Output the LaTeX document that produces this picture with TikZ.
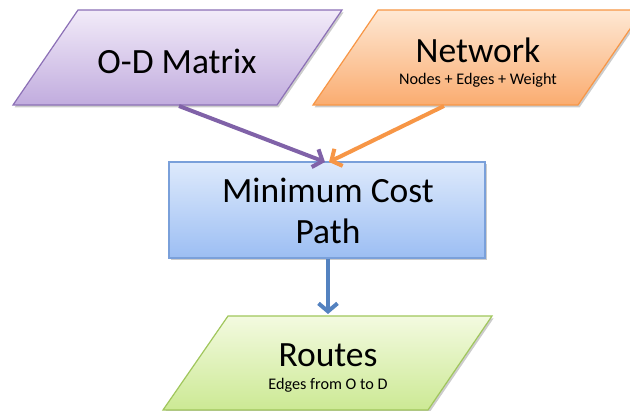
\documentclass[tikz,border=0pt]{standalone}
\usepackage{fontspec}
\setmainfont{Carlito}
\usetikzlibrary{arrows.meta,shadows}
\definecolor{odtop}{RGB}{242,235,249}
\definecolor{odbot}{RGB}{193,172,222}
\definecolor{oddraw}{RGB}{140,112,182}
\definecolor{odarrow}{RGB}{128,98,168}
\definecolor{nettop}{RGB}{254,232,212}
\definecolor{netbot}{RGB}{250,172,112}
\definecolor{netdraw}{RGB}{247,150,70}
\definecolor{mcptop}{RGB}{222,234,252}
\definecolor{mcpbot}{RGB}{156,190,243}
\definecolor{mcpdraw}{RGB}{122,160,218}
\definecolor{mcparrow}{RGB}{84,130,192}
\definecolor{rttop}{RGB}{243,250,224}
\definecolor{rtbot}{RGB}{204,233,148}
\definecolor{rtdraw}{RGB}{160,198,92}
\tikzset{
  boxshadow/.style={drop shadow={shadow xshift=1.5pt,shadow yshift=-2.5pt,opacity=0.2,fill=black}},
  bigtext/.style={font=\fontsize{35.5}{40}\selectfont,inner sep=0pt,anchor=base},
  smalltext/.style={font=\fontsize{16.2}{18}\selectfont,inner sep=0pt,anchor=base},
  flowarrow/.style={line width=4pt,-{Straight Barb[length=8pt,width=19pt,line width=4pt]}},
}
\begin{document}
\begin{tikzpicture}[x=1pt,y=-1pt]
\useasboundingbox (0,0) rectangle (630,411);
\clip (0,0) rectangle (630,411);
% O-D Matrix
\path[boxshadow,top color=odtop,bottom color=odbot,draw=oddraw,line width=1.2pt]
  (78,10) -- (342,10) -- (277,105) -- (13,105) -- cycle;
\node[bigtext] (od) at (177,74) {O-D Matrix};
\coordinate (odout) at (179,106);
% Network
\path[boxshadow,top color=nettop,bottom color=netbot,draw=netdraw,line width=1.2pt]
  (378,10) -- (643,10) -- (578,105) -- (313,105) -- cycle;
\node[bigtext] (net) at (478,63) {Network};
\node[smalltext] (netsub) at (478,84.5) {Nodes + Edges + Weight};
\coordinate (netout) at (444,106);
% Minimum Cost Path
\node[boxshadow,draw=mcpdraw,line width=1.2pt,top color=mcptop,bottom color=mcpbot,
      minimum width=316pt,minimum height=96pt,inner sep=0pt] (mcp) at (327,210) {};
\node[bigtext] (mcp1) at (328,203) {Minimum Cost};
\node[bigtext] (mcp2) at (328,244) {Path};
\coordinate (mcpin1) at (325,162);
\coordinate (mcpin2) at (329,162);
% Routes
\path[boxshadow,top color=rttop,bottom color=rtbot,draw=rtdraw,line width=1.2pt]
  (228,316) -- (492,316) -- (428,410) -- (163,410) -- cycle;
\node[bigtext] (rt) at (328,367) {Routes};
\node[smalltext] (rtsub) at (328,390) {Edges from O to D};
\coordinate (rtin) at (328,314);
% connectors
\draw[flowarrow,odarrow] (odout) -- (mcpin1);
\draw[flowarrow,netdraw] (netout) -- (mcpin2);
\draw[flowarrow,mcparrow] (mcp.south -| rtin) -- (rtin);
\end{tikzpicture}
\end{document}
